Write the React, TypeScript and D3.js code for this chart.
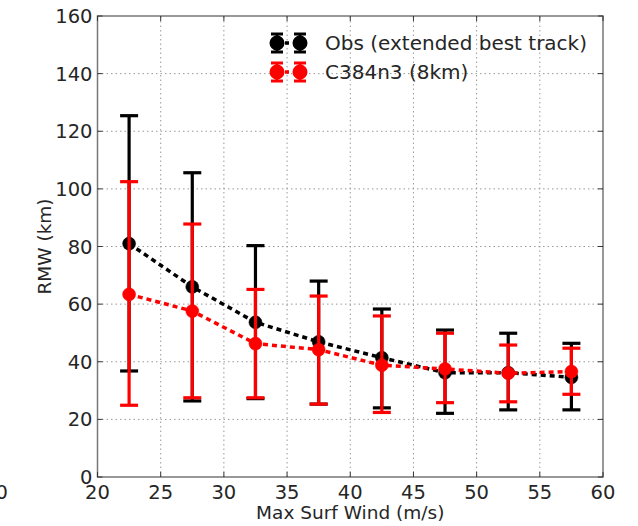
import React from 'react'
import * as d3 from 'd3'

// wind bins (m/s)
const winds = [22.5, 27.5, 32.5, 37.5, 42.5, 47.5, 52.5, 57.5]

// Obs (extended best track)
const obsMean = [81, 66, 53.7, 46.9, 41.4, 36.2, 36.2, 34.6]
const obsLow = [36.8, 26.4, 27.2, 25.3, 24, 22.1, 23.3, 23.3]
const obsHigh = [125.4, 105.6, 80.3, 68, 58.3, 51, 49.9, 46.4]

// C384n3 (8km)
const modMean = [63.4, 57.6, 46.3, 44.2, 38.8, 37.5, 36, 36.6]
const modLow = [24.9, 27.5, 27.5, 25.3, 22.4, 25.8, 26.1, 28.7]
const modHigh = [102.5, 87.8, 65.1, 62.8, 55.9, 49.9, 45.8, 44.7]

const xTicks = [20, 25, 30, 35, 40, 45, 50, 55, 60]
const yTicks = [0, 20, 40, 60, 80, 100, 120, 140, 160]

const W = 638
const H = 526
const margin = { top: 16, right: 35, bottom: 49, left: 97.5 }
const font = 'DejaVu Sans, sans-serif'

const series = [
  { name: 'Obs (extended best track)', color: '#000', mean: obsMean, low: obsLow, high: obsHigh },
  { name: 'C384n3 (8km)', color: '#ff0000', mean: modMean, low: modLow, high: modHigh },
]

export default function App () {
  const x = d3.scaleLinear().domain([20, 60]).range([margin.left, W - margin.right])
  const y = d3.scaleLinear().domain([0, 160]).range([H - margin.bottom, margin.top])
  const line = d3.line<number>().x((d, i) => x(winds[i])).y(d => y(d))
  const capW = 9

  return (
    <svg width={W} height={H} style={{ position: 'absolute', left: 0, top: 0, background: '#fff' }}>
      {/* grid */}
      {xTicks.slice(1, -1).map(t => (
        <line key={'gx' + t} x1={x(t)} x2={x(t)} y1={y(0)} y2={y(160)} stroke='#999' strokeWidth={1} strokeDasharray='1.5,3' />
      ))}
      {yTicks.slice(1, -1).map(t => (
        <line key={'gy' + t} x1={x(20)} x2={x(60)} y1={y(t)} y2={y(t)} stroke='#999' strokeWidth={1} strokeDasharray='1.5,3' />
      ))}

      {/* series */}
      {series.map(s => (
        <g key={s.name}>
          {winds.map((w, i) => (
            <g key={i} stroke={s.color} strokeWidth={3.2}>
              <line x1={x(w)} x2={x(w)} y1={y(s.low[i])} y2={y(s.high[i])} />
              <line x1={x(w) - capW} x2={x(w) + capW} y1={y(s.low[i])} y2={y(s.low[i])} />
              <line x1={x(w) - capW} x2={x(w) + capW} y1={y(s.high[i])} y2={y(s.high[i])} />
            </g>
          ))}
          <path d={line(s.mean) || ''} fill='none' stroke={s.color} strokeWidth={3.5} strokeDasharray='5,4' />
          {winds.map((w, i) => (
            <circle key={'c' + i} cx={x(w)} cy={y(s.mean[i])} r={6.5} fill={s.color} stroke={s.color} strokeWidth={0.5} />
          ))}
        </g>
      ))}

      {/* frame */}
      <rect x={x(20)} y={y(160)} width={x(60) - x(20)} height={y(0) - y(160)} fill='none' stroke='#777' strokeWidth={1.5} />

      {/* ticks */}
      {xTicks.map(t => (
        <g key={'tx' + t}>
          <line x1={x(t)} x2={x(t)} y1={y(0)} y2={y(0) - 5} stroke='#333' />
          <line x1={x(t)} x2={x(t)} y1={y(160)} y2={y(160) + 5} stroke='#333' />
          <text x={x(t)} y={y(0) + 22} textAnchor='middle' fontFamily={font} fontSize={19.5} fill='#262626'>{t}</text>
        </g>
      ))}
      {yTicks.map(t => (
        <g key={'ty' + t}>
          <line x1={x(20)} x2={x(20) + 5} y1={y(t)} y2={y(t)} stroke='#333' />
          <line x1={x(60)} x2={x(60) - 5} y1={y(t)} y2={y(t)} stroke='#333' />
          <text x={x(20) - 5} y={y(t) + 7} textAnchor='end' fontFamily={font} fontSize={19.5} fill='#262626'>{t}</text>
        </g>
      ))}
      {/* clipped tick label from a neighbouring panel */}
      <text x={8} y={y(0) + 22} textAnchor='end' fontFamily={font} fontSize={19.5} fill='#262626'>20</text>

      {/* axis labels */}
      <text x={(x(20) + x(60)) / 2} y={519} textAnchor='middle' fontFamily={font} fontSize={18.5} fill='#262626'>Max Surf Wind (m/s)</text>
      <text transform={`translate(51,${(y(0) + y(160)) / 2}) rotate(-90)`} textAnchor='middle' fontFamily={font} fontSize={18.5} fill='#262626'>RMW (km)</text>

      {/* legend */}
      {series.map((s, i) => {
        const ly = 43 + i * 29
        return (
          <g key={'lg' + i}>
            <line x1={277} x2={300} y1={ly} y2={ly} stroke={s.color} strokeWidth={3.5} strokeDasharray='4,4' strokeDashoffset={-8} />
            {[277, 300].map(lx => (
              <g key={lx} stroke={s.color} strokeWidth={3}>
                <line x1={lx} x2={lx} y1={ly - 9} y2={ly + 9} />
                <line x1={lx - 6} x2={lx + 6} y1={ly - 9} y2={ly - 9} />
                <line x1={lx - 6} x2={lx + 6} y1={ly + 9} y2={ly + 9} />
                <circle cx={lx} cy={ly} r={6} fill={s.color} />
              </g>
            ))}
            <text x={325} y={ly + 7} fontFamily={font} fontSize={20} fill='#262626'>{s.name}</text>
          </g>
        )
      })}
    </svg>
  )
}
